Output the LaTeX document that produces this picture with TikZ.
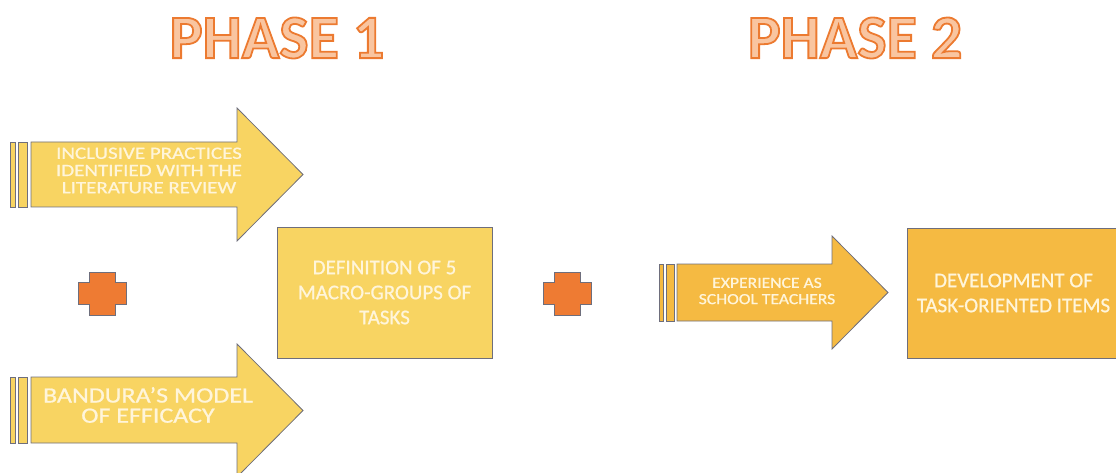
\documentclass[tikz,border=0pt]{standalone}
\usepackage{fontspec}
\setmainfont{Carlito}
\newfontfamily\bodyfont{Carlito}[FakeBold=0.8]
\definecolor{lightgold}{HTML}{F8D462}
\definecolor{darkgold}{HTML}{F5BA42}
\definecolor{edgegray}{HTML}{6E6E7C}
\definecolor{plusorange}{HTML}{EE7B33}
\definecolor{titlefill}{HTML}{F9C5A0}
\definecolor{textwhite}{HTML}{FFF5DA}
\newcommand\outlinedtitle[1]{\textcolor{titlefill}{\special{pdf:literal direct 0.925 0.478 0.188 RG 2 Tr 1.8 w}#1\special{pdf:literal direct 0 Tr}}}
\tikzset{
  shapeline/.style={draw=edgegray, line width=0.8pt, line join=miter},
  lightshape/.style={shapeline, fill=lightgold},
  darkshape/.style={shapeline, fill=darkgold},
  plusshape/.style={shapeline, fill=plusorange},
  label/.style={text=textwhite, inner sep=0pt, align=center},
  boxnode/.style={shapeline, inner sep=0pt, text=textwhite, align=center, font=\bodyfont\fontsize{21}{25}\selectfont},
  title/.style={inner sep=0pt, font=\bfseries\fontsize{62}{62}\selectfont}
}
\begin{document}
\begin{tikzpicture}[x=1pt,y=-1pt]
\useasboundingbox (0,0) rectangle (1116,473);
% titles
\node[title] (t1) at (277,38) {\outlinedtitle{PHASE 1}};
\node[title] (t2) at (855,38) {\outlinedtitle{PHASE 2}};
% arrow 1
\draw[lightshape] (10,142) rectangle (15,207);
\draw[lightshape] (18,142) rectangle (27,207);
\draw[lightshape] (31,142) -- (237,142) -- (237,108) -- (303,174.5) -- (237,241) -- (237,207) -- (31,207) -- cycle;
\node[label, font=\bodyfont\fontsize{21}{21}\selectfont, yscale=0.82, transform shape] (a1) at (149,170.5) {INCLUSIVE PRACTICES\\IDENTIFIED WITH THE\\LITERATURE REVIEW};
% arrow 2
\draw[lightshape] (10,377) rectangle (15,443);
\draw[lightshape] (18,377) rectangle (27,443);
\draw[lightshape] (31,377) -- (237,377) -- (237,344) -- (303,410.5) -- (237,477) -- (237,443) -- (31,443) -- cycle;
\node[label, font=\bodyfont\fontsize{26}{24}\selectfont, yscale=0.84, transform shape] (a2) at (148,405) {BANDURA’S MODEL\\OF EFFICACY};
% plus 1
\draw[plusshape] (89,272) -- (115,272) -- (115,282) -- (126,282) -- (126,304) -- (115,304) -- (115,315) -- (89,315) -- (89,304) -- (78,304) -- (78,282) -- (89,282) -- cycle;
% box 1
\node[boxnode, fill=lightgold, minimum width=215pt, minimum height=131pt] (b1) at (384.5,292.5) {DEFINITION OF 5\\MACRO-GROUPS OF\\TASKS};
% plus 2
\draw[plusshape] (554,272) -- (580,272) -- (580,282) -- (591,282) -- (591,304) -- (580,304) -- (580,315) -- (554,315) -- (554,304) -- (543,304) -- (543,282) -- (554,282) -- cycle;
% arrow 3
\draw[darkshape] (659,264) rectangle (663,321);
\draw[darkshape] (666,264) rectangle (674,321);
\draw[darkshape] (677,264) -- (832,264) -- (832,236) -- (888,292.5) -- (832,349) -- (832,321) -- (677,321) -- cycle;
\node[label, font=\bodyfont\fontsize{17.6}{18.5}\selectfont, yscale=0.88, transform shape] (a3) at (767,291) {EXPERIENCE AS\\SCHOOL TEACHERS};
% box 2
\node[boxnode, fill=darkgold, minimum width=213pt, minimum height=130pt] (b2) at (1013.5,293) {DEVELOPMENT OF\\TASK-ORIENTED ITEMS};
\end{tikzpicture}
\end{document}
